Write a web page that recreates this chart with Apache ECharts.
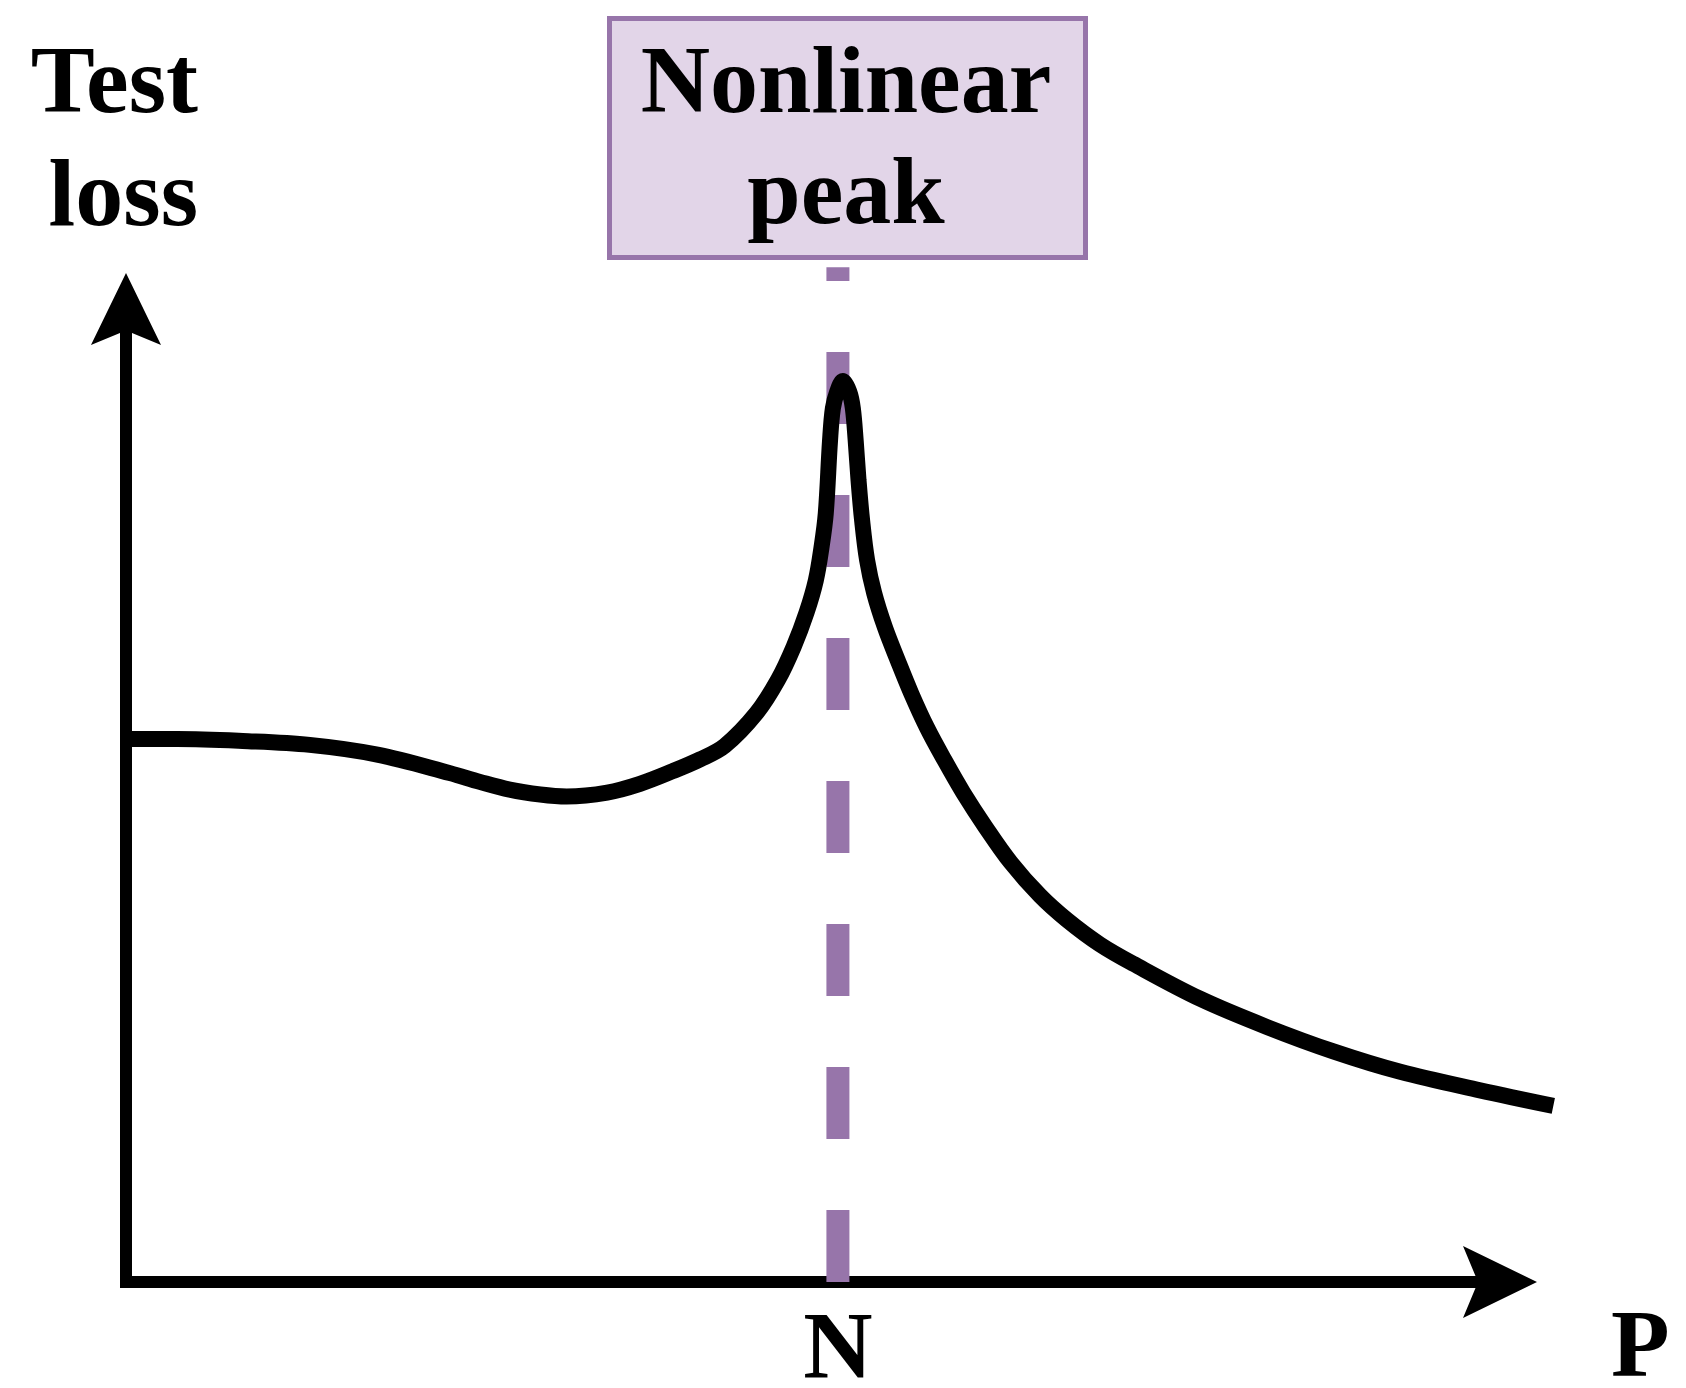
<!DOCTYPE html>
<html>
<head>
<meta charset="utf-8">
<title>Test loss - nonlinear peak</title>
<script src="https://cdn.jsdelivr.net/npm/echarts/dist/echarts.min.js"></script>
<style>
    html, body { margin: 0; padding: 0; background: #fff; }
    #chart-container { width: 1686px; height: 1388px; }
</style>
</head>
<body>
<div id="chart-container"></div>
<script>
var paramRatio = [0, 0.072, 0.164, 0.258, 0.353, 0.455, 0.497, 0.539, 0.582, 0.619,
    0.676, 0.722, 0.768, 0.806, 0.841, 0.886, 0.916, 0.938, 0.956, 0.969,
    0.977, 0.983, 0.989, 0.993, 0.999, 1.007, 1.016, 1.021, 1.025, 1.029,
    1.034, 1.041, 1.051, 1.066, 1.084, 1.103, 1.125, 1.150, 1.176, 1.207,
    1.243, 1.284, 1.322, 1.368, 1.415, 1.509, 1.603, 1.696, 1.790, 1.902,
    2.005];
var testLoss = [5.58, 5.58, 5.56, 5.52, 5.42, 5.23, 5.14, 5.06, 5.01, 4.99,
    5.03, 5.12, 5.25, 5.37, 5.51, 5.85, 6.19, 6.53, 6.88, 7.21,
    7.55, 7.90, 8.65, 8.98, 9.15, 9.26, 9.15, 8.98, 8.65, 8.24,
    7.83, 7.42, 7.08, 6.73, 6.39, 6.05, 5.70, 5.36, 5.03, 4.68,
    4.31, 3.97, 3.72, 3.47, 3.27, 2.91, 2.62, 2.37, 2.16, 1.97,
    1.81];
var peakAt = 1;          // P = N
var peakLineTop = 10.43; // dashed marker runs up to the label box
var xTickLabels = { 1: 'N' };

var serif = "'Liberation Serif', 'Times New Roman', serif";
var purple = '#9775AA';
var arrow = 'path://M0 0 L36 74 L0 59 L-36 74 Z';

var myChart = echarts.init(document.getElementById('chart-container'));

var lossData = paramRatio.map(function (p, i) {
    return [p, testLoss[i]];
});

var axisLineStyle = { color: '#000', width: 12, cap: 'square' };

var option = {
    animation: false,
    backgroundColor: '#fff',
    // grid 0 carries the drawn axes, grid 1 (same scale, a bit wider) carries the curve
    // so that its tail can run past the arrow head
    grid: [
        { left: 126, right: 186, top: 309, bottom: 106, containLabel: false, outerBoundsMode: 'none' },
        { left: 126, right: 122, top: 309, bottom: 106, containLabel: false, outerBoundsMode: 'none' }
    ],
    xAxis: [
        {
            type: 'value',
            gridIndex: 0,
            min: 0,
            max: 1.93,
            interval: 1,
            axisLine: {
                show: true,
                symbol: ['none', arrow],
                symbolSize: [72, 74],
                lineStyle: axisLineStyle
            },
            axisTick: { show: false },
            splitLine: { show: false },
            axisLabel: {
                margin: 23,
                color: '#000',
                fontFamily: serif,
                fontWeight: 'bold',
                fontSize: 96,
                lineHeight: 96,
                formatter: function (v) { return xTickLabels[v] || ''; }
            }
        },
        { type: 'value', gridIndex: 1, min: 0, max: 2.02, show: false }
    ],
    yAxis: [
        {
            type: 'value',
            gridIndex: 0,
            min: 0,
            max: 10,
            axisLine: {
                show: true,
                symbol: ['none', arrow],
                symbolSize: [74, 72],
                lineStyle: axisLineStyle
            },
            axisTick: { show: false },
            axisLabel: { show: false },
            splitLine: { show: false }
        },
        { type: 'value', gridIndex: 1, min: 0, max: 10, show: false }
    ],
    graphic: [
        {
            type: 'rect',
            shape: { x: 609.5, y: 18.5, width: 476, height: 239 },
            style: { fill: '#E2D5E8', stroke: purple, lineWidth: 5 }
        },
        {
            type: 'text',
            x: 846,
            y: 32,
            style: {
                text: 'Nonlinear\npeak',
                fontFamily: serif, fontWeight: 'bold', fontSize: 96, lineHeight: 111,
                fill: '#000',
                align: 'center', textAlign: 'center',
                verticalAlign: 'top', textVerticalAlign: 'top'
            }
        },
        {
            type: 'text',
            x: 198,
            y: 31,
            style: {
                text: 'Test\nloss',
                fontFamily: serif, fontWeight: 'bold', fontSize: 96, lineHeight: 113,
                fill: '#000',
                align: 'right', textAlign: 'right',
                verticalAlign: 'top', textVerticalAlign: 'top'
            }
        },
        {
            type: 'text',
            x: 1611,
            y: 1303,
            style: {
                text: 'P',
                fontFamily: serif, fontWeight: 'bold', fontSize: 96, lineHeight: 96,
                fill: '#000',
                align: 'left', textAlign: 'left',
                verticalAlign: 'top', textVerticalAlign: 'top'
            }
        }
    ],
    series: [
        {
            // vertical marker at P = N
            type: 'line',
            xAxisIndex: 0,
            yAxisIndex: 0,
            data: [[peakAt, 0], [peakAt, peakLineTop]],
            symbol: 'none',
            clip: false,
            silent: true,
            z: 2,
            lineStyle: { color: purple, width: 23, type: [72, 71] }
        },
        {
            name: 'Test loss',
            type: 'line',
            xAxisIndex: 1,
            yAxisIndex: 1,
            data: lossData,
            smooth: 0.35,
            symbol: 'none',
            clip: false,
            silent: true,
            z: 3,
            lineStyle: { color: '#000', width: 16 }
        }
    ]
};

myChart.setOption(option);
</script>
</body>
</html>
